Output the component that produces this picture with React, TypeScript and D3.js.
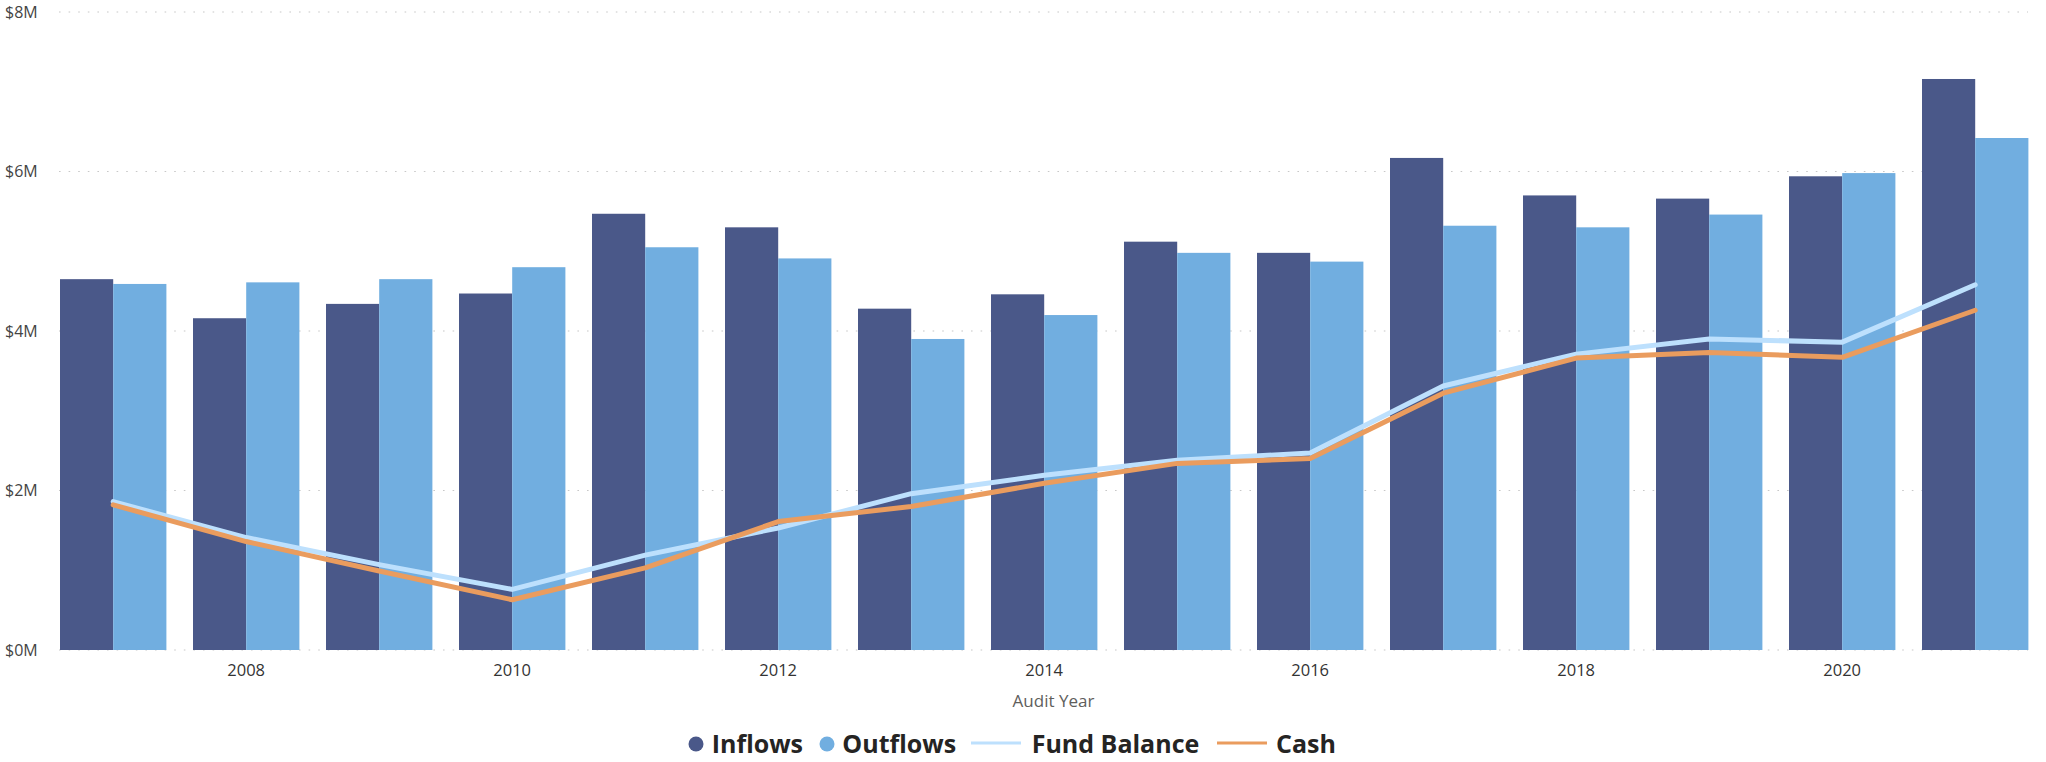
import React from "react";
import * as d3 from "d3";

const years = [2007, 2008, 2009, 2010, 2011, 2012, 2013, 2014, 2015, 2016, 2017, 2018, 2019, 2020, 2021];
const inflows = [4.65, 4.16, 4.34, 4.47, 5.47, 5.30, 4.28, 4.46, 5.12, 4.98, 6.17, 5.70, 5.66, 5.94, 7.16];
const outflows = [4.59, 4.61, 4.65, 4.80, 5.05, 4.91, 3.90, 4.20, 4.98, 4.87, 5.32, 5.30, 5.46, 5.98, 6.42];
const fundBalance = [1.86, 1.41, 1.07, 0.76, 1.19, 1.53, 1.96, 2.19, 2.38, 2.47, 3.31, 3.71, 3.90, 3.86, 4.58];
const cash = [1.82, 1.36, 0.99, 0.63, 1.03, 1.61, 1.80, 2.09, 2.34, 2.40, 3.22, 3.66, 3.73, 3.67, 4.26];
const yTicks = [0, 2, 4, 6, 8];
const xTickYears = [2008, 2010, 2012, 2014, 2016, 2018, 2020];
const seriesNames = ["Inflows", "Outflows"];

const COLORS = {
  Inflows: "#4a5889",
  Outflows: "#71aee0",
  fund: "#bde0fd",
  cash: "#ea9c5e",
};

const FONT = "'Segoe UI', 'Open Sans', sans-serif";

export default function App() {
  const W = 2046;
  const H = 762;
  const x = d3
    .scaleBand<number>()
    .domain(years)
    .range([46.7, 2041.7])
    .paddingInner(0.2)
    .paddingOuter(0.1);
  const xs = d3.scaleBand<string>().domain(seriesNames).range([0, x.bandwidth()]).padding(0);
  const y = d3.scaleLinear().domain([0, 8]).range([650, 12]);

  const barData = years.map((yr, i) => ({ yr, Inflows: inflows[i], Outflows: outflows[i] }));
  const cx = (yr: number) => (x(yr) as number) + x.bandwidth() / 2;

  const lineGen = d3
    .line<number>()
    .x((_, i) => cx(years[i]))
    .y((d) => y(d));

  const gridX0 = 59;
  const gridX1 = 2028;

  return (
    <svg
      width={W}
      height={H}
      style={{ position: "absolute", left: 0, top: 0, background: "#fff" }}
      fontFamily={FONT}
    >
      {yTicks.map((t) => (
        <line
          key={"g" + t}
          x1={gridX0}
          x2={gridX1}
          y1={y(t)}
          y2={y(t)}
          stroke="#c8c8c8"
          strokeWidth={1.2}
          strokeDasharray="1.6 8"
        />
      ))}
      {yTicks.map((t) => (
        <text
          key={"yl" + t}
          x={5}
          y={y(t) + 1.5}
          dominantBaseline="middle"
          fontSize={16}
          fill="#444"
        >
          {`$${t}M`}
        </text>
      ))}
      {barData.map((d) => (
        <g key={d.yr} transform={`translate(${x(d.yr)},0)`}>
          {seriesNames.map((s) => (
            <rect
              key={s}
              x={xs(s)}
              y={y((d as any)[s])}
              width={xs.bandwidth()}
              height={y(0) - y((d as any)[s])}
              fill={(COLORS as any)[s]}
            />
          ))}
        </g>
      ))}
      <path
        d={lineGen(fundBalance) || ""}
        fill="none"
        stroke={COLORS.fund}
        strokeWidth={5}
        strokeLinejoin="round"
        strokeLinecap="round"
      />
      <path
        d={lineGen(cash) || ""}
        fill="none"
        stroke={COLORS.cash}
        strokeWidth={5}
        strokeLinejoin="round"
        strokeLinecap="round"
      />
      {xTickYears.map((yr) => (
        <text
          key={"xl" + yr}
          x={cx(yr)}
          y={672}
          textAnchor="middle"
          dominantBaseline="middle"
          fontSize={16.5}
          fill="#333"
        >
          {yr}
        </text>
      ))}
      <text
        x={(gridX0 + gridX1) / 2 + 10}
        y={702}
        textAnchor="middle"
        dominantBaseline="middle"
        fontSize={17}
        fill="#605e5c"
      >
        Audit Year
      </text>
      <g fontSize={25} fontWeight="bold" fill="#252423">
        <circle cx={696} cy={744} r={7.5} fill={COLORS.Inflows} />
        <text x={711.7} y={753}>Inflows</text>
        <circle cx={827} cy={744} r={7.5} fill={COLORS.Outflows} />
        <text x={842.3} y={753}>Outflows</text>
        <line x1={971} x2={1021} y1={743} y2={743} stroke={COLORS.fund} strokeWidth={3} />
        <text x={1031.7} y={753}>Fund Balance</text>
        <line x1={1217} x2={1267} y1={743} y2={743} stroke={COLORS.cash} strokeWidth={3} />
        <text x={1276} y={753}>Cash</text>
      </g>
    </svg>
  );
}
